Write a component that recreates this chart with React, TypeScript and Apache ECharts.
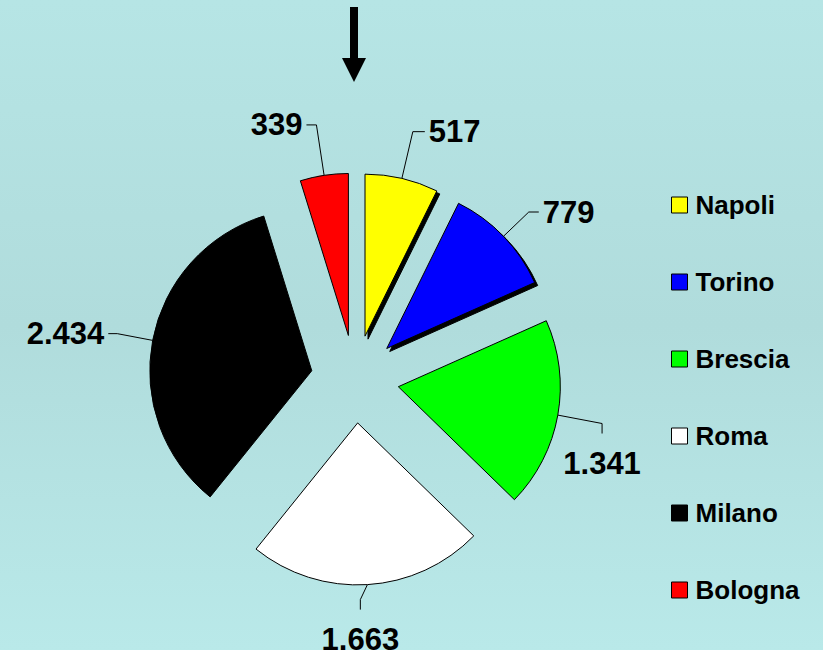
import React, { useEffect, useRef } from 'react';
import * as echarts from 'echarts';

// ---- data ----
const categories = ['Napoli', 'Torino', 'Brescia', 'Roma', 'Milano', 'Bologna'];
const values = [517, 779, 1341, 1663, 2434, 339];

// ---- styles ----
const colors = ['#ffff00', '#0000ff', '#00ff00', '#ffffff', '#000000', '#ff0000'];
const shadowed = ['Napoli', 'Torino'];
// labels drawn under a vertical leader, with a horizontal nudge of the elbow
const labelBelow: Record<string, number> = { Brescia: -3, Roma: -8 };
const lineLengths: Record<string, [number, number]> = {
  Napoli: [48, 12],
  Torino: [35, 10],
  Brescia: [48, 0],
  Roma: [15, 0],
  Milano: [36, 9],
  Bologna: [51, 10],
};

const CX = 355;
const CY = 379;
const R = 162;
const EXPLODE = 44;
const FONT = '"Liberation Sans", Arial, sans-serif';

const fmt = (v: number) => String(v).replace(/\B(?=(\d{3})+(?!\d))/g, '.');

export default function App() {
  const ref = useRef<HTMLDivElement>(null);

  useEffect(() => {
    if (!ref.current) return;
    const chart = echarts.init(ref.current, null, { renderer: 'svg' });

    const total = values.reduce((a, b) => a + b, 0);
    let cum = 0;
    const series = categories.map((name, i) => {
      const start = cum;
      cum += values[i];
      const mid = ((start + values[i] / 2) / total) * 2 * Math.PI;
      const center = [CX + EXPLODE * Math.sin(mid), CY - EXPLODE * Math.cos(mid)];
      const [len, len2] = lineLengths[name];
      return {
        type: 'pie',
        name,
        center,
        radius: R,
        startAngle: 90,
        clockwise: true,
        avoidLabelOverlap: false,
        silent: true,
        emphasis: { disabled: true },
        label: {
          position: 'outside',
          formatter: (p: any) => fmt(p.value),
          fontSize: 31,
          fontWeight: 'bold',
          fontFamily: FONT,
          color: '#000',
          distanceToLabelLine: 4,
        },
        labelLine: { lineStyle: { color: '#000', width: 1 } },
        labelLayout: (params: any) => {
          if (params.dataIndex !== i || !(name in labelBelow)) return {};
          const pts = params.labelLinePoints;
          if (!pts) return {};
          const p0 = pts[0];
          const p1 = [pts[1][0] + labelBelow[name], pts[1][1]];
          return {
            x: p1[0],
            y: p1[1] + 24,
            align: 'center',
            verticalAlign: 'top',
            labelLinePoints: [p0, p1, [p1[0], p1[1] + 10]],
          };
        },
        data: categories.map((n, j) =>
          j === i
            ? {
                name: n,
                value: values[j],
                itemStyle: {
                  color: colors[j],
                  borderColor: '#000',
                  borderWidth: 1,
                  ...(shadowed.indexOf(n) >= 0
                    ? { shadowColor: '#000', shadowBlur: 0, shadowOffsetX: 3, shadowOffsetY: 3 }
                    : {}),
                },
                label: { show: true },
                labelLine: { show: true, length: len, length2: len2 },
              }
            : {
                name: n,
                value: values[j],
                itemStyle: { color: 'transparent', borderWidth: 0 },
                label: { show: false },
                labelLine: { show: false },
              }
        ),
      };
    });

    chart.setOption({
      animation: false,
      backgroundColor: {
        type: 'linear',
        x: 0,
        y: 0,
        x2: 0,
        y2: 1,
        colorStops: [
          { offset: 0, color: '#b6e5e5' },
          { offset: 0.5, color: '#b0dcdc' },
          { offset: 1, color: '#b9e9e9' },
        ],
      },
      legend: {
        orient: 'vertical',
        left: 671,
        top: 192,
        padding: 0,
        itemWidth: 16,
        itemHeight: 16,
        itemGap: 51,
        icon: 'rect',
        selectedMode: false,
        textStyle: {
          fontSize: 26,
          fontWeight: 'bold',
          fontFamily: FONT,
          color: '#000',
          padding: [0, 0, 0, 3],
        },
        data: categories.map((n, i) => ({
          name: n,
          itemStyle: {
            color: colors[i],
            borderColor: '#000',
            borderWidth: 1,
            shadowBlur: 0,
            shadowOffsetX: 0,
            shadowOffsetY: 0,
            shadowColor: 'transparent',
          },
        })),
      },
      graphic: [
        { type: 'rect', shape: { x: 350, y: 7, width: 8, height: 51 }, style: { fill: '#000' } },
        { type: 'polygon', shape: { points: [[342, 58], [366, 58], [354, 82]] }, style: { fill: '#000' } },
      ],
      series,
    });

    return () => chart.dispose();
  }, []);

  return (
    <div
      ref={ref}
      style={{ position: 'fixed', left: 0, top: 0, width: 823, height: 650 }}
    />
  );
}
